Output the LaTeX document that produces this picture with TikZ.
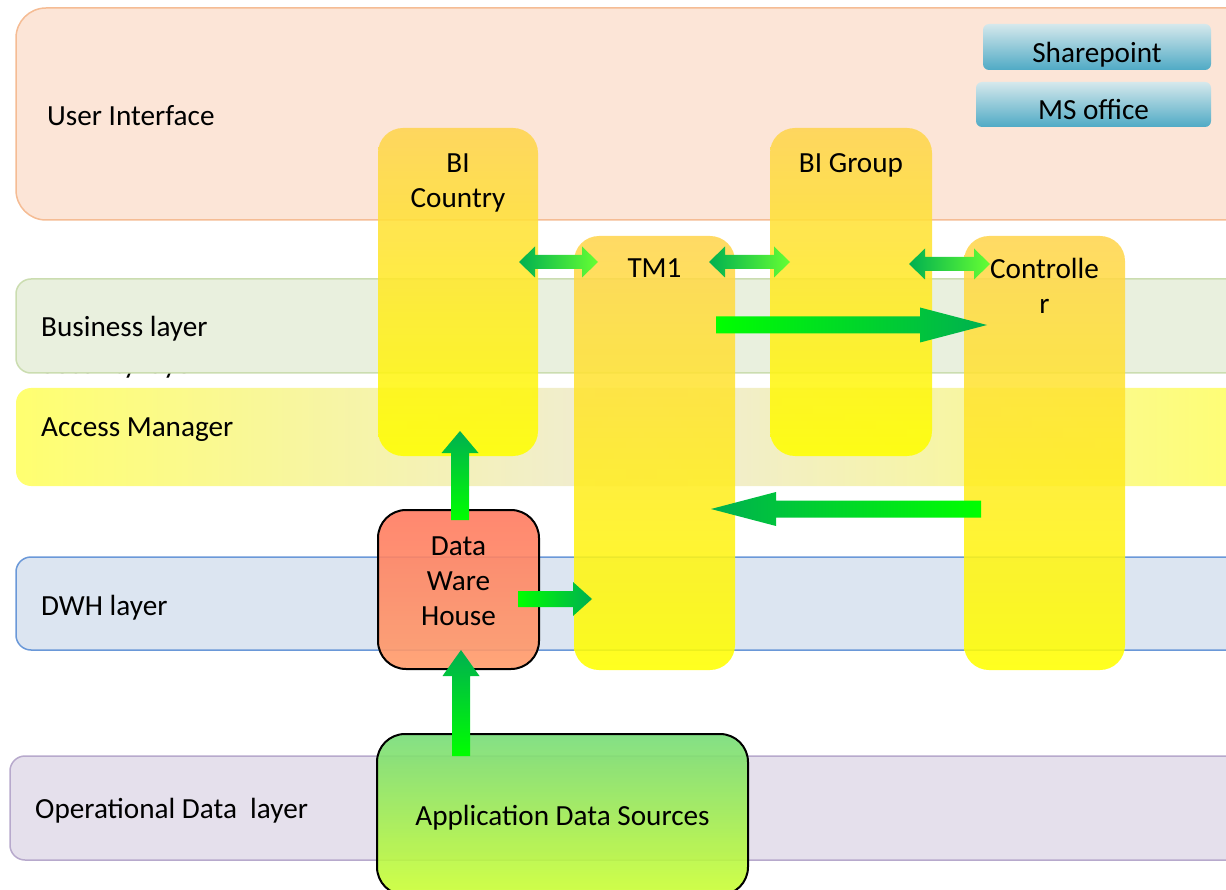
\documentclass[tikz,border=0pt]{standalone}
\usepackage{fontspec}
\setmainfont{Carlito}
\usetikzlibrary{calc}

\definecolor{uiFill}{HTML}{FCE5D7}
\definecolor{uiLine}{HTML}{F5BC94}
\definecolor{bizFill}{HTML}{E9F0DE}
\definecolor{bizLine}{HTML}{CBDDB0}
\definecolor{accLeft}{HTML}{FFFF70}
\definecolor{accMid}{HTML}{EFEBD8}
\definecolor{dwhFill}{HTML}{DCE5F1}
\definecolor{dwhLine}{HTML}{6A98D8}
\definecolor{opFill}{HTML}{E5E0EC}
\definecolor{opLine}{HTML}{B7A9CC}
\definecolor{colTop}{HTML}{FFD54F}
\definecolor{btnTop}{HTML}{D5E8EC}
\definecolor{btnBot}{HTML}{4FAAC5}
\definecolor{dwhTop}{HTML}{FF7A60}
\definecolor{dwhBot}{HTML}{FF9C6A}
\definecolor{adsTop}{HTML}{76DC78}
\definecolor{adsBot}{HTML}{CCFF33}
\definecolor{arrDark}{HTML}{00B050}
\definecolor{arrLight}{HTML}{00FF00}
\definecolor{dblLight}{HTML}{66FF33}

% seta larga: [estilo]{cauda}{ponta}{meia haste}{meia cabeca}{comprimento cabeca}
\newcommand{\blockarrow}[6][]{%
  \shade[#1] let \p1=(#2), \p2=(#3), \n1={veclen(\x2-\x1,\y2-\y1)},
      \n2={(\x2-\x1)/\n1}, \n3={(\y2-\y1)/\n1} in
    ({\x1-(\n3)*#4}, {\y1+(\n2)*#4})
    -- ({\x2-(\n2)*#6-(\n3)*#4}, {\y2-(\n3)*#6+(\n2)*#4})
    -- ({\x2-(\n2)*#6-(\n3)*#5}, {\y2-(\n3)*#6+(\n2)*#5})
    -- (\x2,\y2)
    -- ({\x2-(\n2)*#6+(\n3)*#5}, {\y2-(\n3)*#6-(\n2)*#5})
    -- ({\x2-(\n2)*#6+(\n3)*#4}, {\y2-(\n3)*#6-(\n2)*#4})
    -- ({\x1+(\n3)*#4}, {\y1-(\n2)*#4}) -- cycle;}
% seta larga com duas pontas
\newcommand{\dblarrow}[6][]{%
  \shade[#1] let \p1=(#2), \p2=(#3), \n1={veclen(\x2-\x1,\y2-\y1)},
      \n2={(\x2-\x1)/\n1}, \n3={(\y2-\y1)/\n1} in
    (\x1,\y1)
    -- ({\x1+(\n2)*#6-(\n3)*#5}, {\y1+(\n3)*#6+(\n2)*#5})
    -- ({\x1+(\n2)*#6-(\n3)*#4}, {\y1+(\n3)*#6+(\n2)*#4})
    -- ({\x2-(\n2)*#6-(\n3)*#4}, {\y2-(\n3)*#6+(\n2)*#4})
    -- ({\x2-(\n2)*#6-(\n3)*#5}, {\y2-(\n3)*#6+(\n2)*#5})
    -- (\x2,\y2)
    -- ({\x2-(\n2)*#6+(\n3)*#5}, {\y2-(\n3)*#6-(\n2)*#5})
    -- ({\x2-(\n2)*#6+(\n3)*#4}, {\y2-(\n3)*#6-(\n2)*#4})
    -- ({\x1+(\n2)*#6+(\n3)*#4}, {\y1+(\n3)*#6-(\n2)*#4})
    -- ({\x1+(\n2)*#6+(\n3)*#5}, {\y1+(\n3)*#6-(\n2)*#5}) -- cycle;}

\begin{document}
\begin{tikzpicture}[x=1pt, y=-1pt,
    txt/.style={font=\fontsize{29.2}{35}\selectfont, inner sep=0pt, align=center},
    band/.style={anchor=north west, outer sep=0pt, minimum width=1250pt, rounded corners=15pt, line width=1.5pt},
    column/.style={anchor=north west, outer sep=0pt, rounded corners=25pt, top color=colTop, bottom color=yellow, fill opacity=0.88, minimum width=161pt},
    button/.style={txt, anchor=north west, outer sep=0pt, rounded corners=6pt, top color=btnTop, bottom color=btnBot, text height=31pt, text depth=0pt},
    store/.style={anchor=north west, outer sep=0pt, rounded corners=28pt, draw=black, line width=2pt, fill opacity=0.9},
    flowup/.style={bottom color=arrLight, top color=arrDark},
    flowright/.style={bottom color=arrLight, top color=arrDark, shading angle=270},
    flowleft/.style={bottom color=arrLight, top color=arrDark, shading angle=90},
    twoway/.style={left color=arrDark, right color=dblLight}]
  \useasboundingbox (0,0) rectangle (1226,890);
  \clip (0,0) rectangle (1226,890);
  % Camadas
  \node[band, draw=uiLine, fill=uiFill, minimum height=212pt, rounded corners=30pt] (ui) at (16,8) {};
  \node[txt, anchor=west] (uitxt) at ($(ui.west)+(31,2)$) {User Interface};
  \node[txt, anchor=base west] (sectxt) at (41,373.5) {Security layer};
  \node[band, draw=bizLine, fill=bizFill, minimum height=94pt] (biz) at (16,279) {};
  \node[txt, anchor=west] (biztxt) at ($(biz.west)+(25,3)$) {Business layer};
  \node[band, left color=accLeft, right color=accLeft, middle color=accMid, minimum height=98pt] (acc) at (16,388) {};
  \node[txt, anchor=west] (acctxt) at ($(acc.west)+(25,-7)$) {Access Manager};
  \node[band, draw=dwhLine, fill=dwhFill, minimum height=93pt] (dwhl) at (16,557) {};
  \node[txt, anchor=west] (dwhltxt) at ($(dwhl.west)+(25,4)$) {DWH layer};
  \node[band, draw=opLine, fill=opFill, minimum height=104pt] (opl) at (10,756) {};
  \node[txt, anchor=west] (opltxt) at ($(opl.west)+(25,3)$) {Operational Data\ \ layer};
  % Colunas
  \node[column, minimum width=160pt, minimum height=328pt] (bic) at (378,128) {};
  \node[column, minimum height=434pt] (tm) at (574,236) {};
  \node[column, minimum width=162pt, minimum height=328pt] (big) at (770,128) {};
  \node[column, minimum height=434pt] (ctrl) at (964,236) {};
  \node[txt] (bictxt) at ($(bic.north)+(0,55)$) {BI\\Country};
  \node[txt] (tmtxt) at ($(tm.north)+(0,32)$) {TM1};
  \node[txt] (bigtxt) at ($(big.north)+(0,37)$) {BI Group};
  \node[txt] (ctrltxt) at ($(ctrl.north)+(0,50)$) {Controlle\\r};
  % Botoes
  \node[button, minimum width=228pt, minimum height=46pt] (shp) at (983,24) {Sharepoint};
  \node[button, minimum width=235pt, minimum height=45pt] (mso) at (976,82) {MS office};
  % Fontes de dados
  \node[store, top color=dwhTop, bottom color=dwhBot, minimum width=161pt, minimum height=159pt] (dwh) at (378,510) {};
  \node[txt] (dwhtxt) at ($(dwh.north)+(0,71)$) {Data\\Ware\\House};
  \node[store, top color=adsTop, bottom color=adsBot, minimum width=371pt, minimum height=161pt] (ads) at (377,734) {};
  \node[txt] (adstxt) at ($(ads.north)+(0,84)$) {Application Data Sources};
  % Setas duplas
  \path (bic.north east) ++(-19,134) coordinate (d1a);
  \path (tm.north west) ++(24,26) coordinate (d1b);
  \path (tm.north east) ++(-26,26) coordinate (d2a);
  \path (big.north west) ++(20,134) coordinate (d2b);
  \path (big.north east) ++(-23,136) coordinate (d3a);
  \path (ctrl.north west) ++(26,28) coordinate (d3b);
  \dblarrow[twoway]{d1a}{d1b}{7}{15.5}{16}
  \dblarrow[twoway]{d2a}{d2b}{7}{15.5}{16}
  \dblarrow[twoway]{d3a}{d3b}{7}{15.5}{16}
  % Setas simples
  \path (tm.north east) ++(-19,89) coordinate (tmout);
  \path (ctrl.north west) ++(23,89) coordinate (ctrlin);
  \path (ctrl.north west) ++(17,273) coordinate (ctrlout);
  \path (tm.north east) ++(-24,273) coordinate (tmin);
  \path (dwh.north) ++(1.5,10) coordinate (dwhup);
  \path (bic.south) ++(2,-25) coordinate (bicin);
  \path (dwh.east) ++(-21,9.5) coordinate (dwhout);
  \path (tm.west) ++(18,146) coordinate (tmdwh);
  \path (ads.north west) ++(84,22) coordinate (adsup);
  \path (dwh.south) ++(2.5,-19) coordinate (dwhin);
  \blockarrow[flowright]{tmout}{ctrlin}{8.5}{17.5}{67}
  \blockarrow[flowleft]{ctrlout}{tmin}{8.5}{17}{65}
  \blockarrow[flowup]{dwhup}{bicin}{9}{18.5}{22}
  \blockarrow[flowright]{dwhout}{tmdwh}{8}{17}{19}
  \blockarrow[flowup]{adsup}{dwhin}{9}{18.5}{26}
\end{tikzpicture}
\end{document}
